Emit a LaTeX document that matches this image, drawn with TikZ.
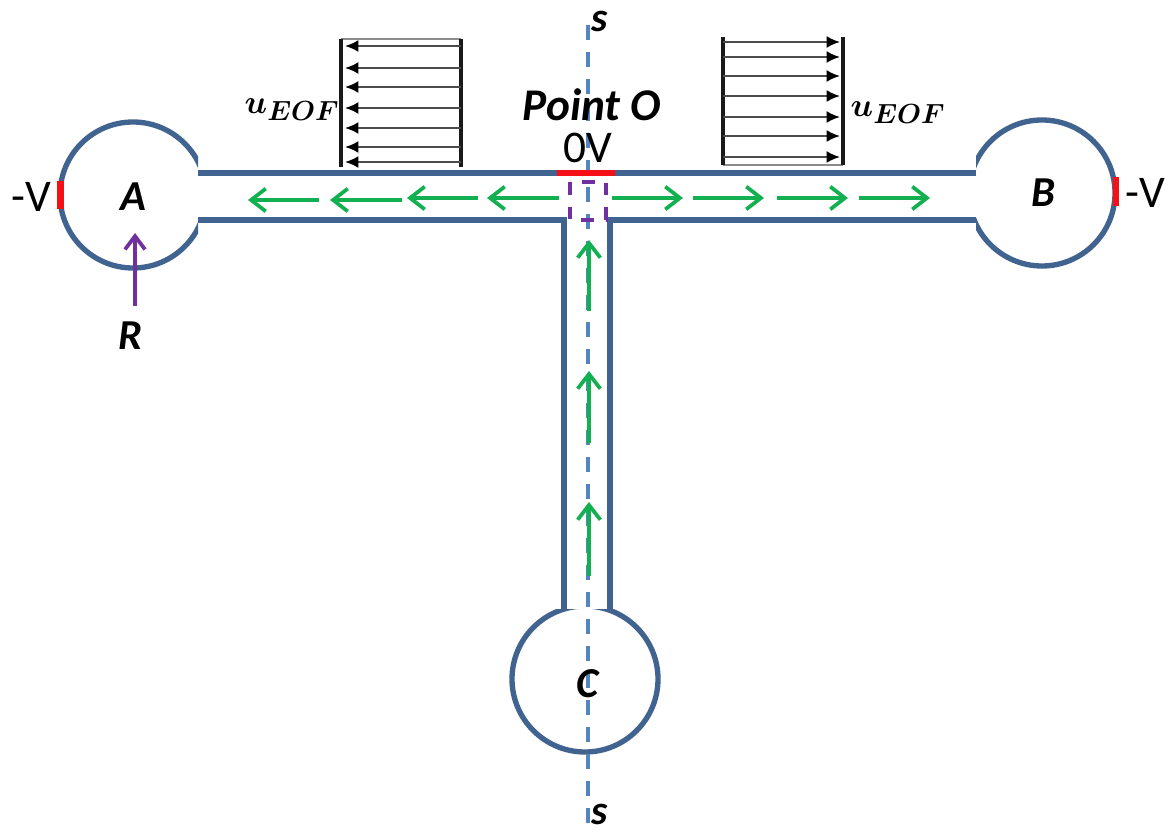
\documentclass[tikz,border=0pt]{standalone}
\usepackage{fontspec}
\setmainfont{Carlito}
\usetikzlibrary{arrows.meta}
\definecolor{wall}{HTML}{41638F}
\definecolor{axis}{HTML}{5585BF}
\definecolor{flow}{HTML}{12B050}
\definecolor{electrode}{HTML}{F50F17}
\definecolor{probe}{HTML}{7030A0}
\tikzset{
  wall/.style={line width=4pt, draw=wall},
  axis/.style={line width=2.6pt, draw=axis, dash pattern=on 11.25pt off 9pt},
  flow/.style={-{Straight Barb[length=11pt,width=17pt,line width=2.8pt]}, line width=2.8pt, draw=flow},
  electrode/.style={line width=5.2pt, draw=electrode},
  probe/.style={line width=2.8pt, draw=probe, dash pattern=on 9.5pt off 9pt},
  rarrow/.style={-{Straight Barb[length=10pt,width=15pt,line width=2.8pt]}, line width=2.8pt, draw=probe},
  bar/.style={line width=3.4pt, draw=black!90},
  prof/.style={-{Latex[length=10pt,width=9pt,black]}, line width=1.7pt, draw=black!70},
  thin/.style={line width=1pt, draw=black!45},
  lab/.style={font=\fontsize{32}{34}\selectfont\bfseries\itshape, inner sep=0pt},
  labs/.style={font=\fontsize{31}{33}\selectfont\bfseries\itshape, inner sep=0pt},
  labo/.style={font=\fontsize{34}{36}\selectfont\bfseries\itshape, inner sep=0pt},
  labv/.style={font=\fontsize{34}{36}\selectfont, inner sep=0pt},
  labu/.style={font=\fontsize{30}{32}\selectfont\boldmath, inner sep=0pt}
}
\begin{document}
\begin{tikzpicture}[x=0.75pt,y=-0.75pt]
  \useasboundingbox (0,0) rectangle (1171,834);

  % reservoirs
  \begin{scope}
    \clip (0,0) rectangle (198,834);
    \draw[wall] (133,195) circle[radius=73];
  \end{scope}
  \begin{scope}
    \clip (976,0) rectangle (1171,834);
    \draw[wall] (1042,193) circle[radius=73];
  \end{scope}
  \begin{scope}
    \clip (0,609) rectangle (1171,834);
    \draw[wall] (585,679) circle[radius=73];
  \end{scope}

  % channel walls
  \draw[wall] (198,173) -- (976,173);
  \draw[wall] (198,220) -- (564,220) -- (564,611);
  \draw[wall] (976,220) -- (610,220) -- (610,611);

  % centre line
  \draw[axis] (588,25) -- (588,832);

  % electrodes
  \draw[electrode] (557,173) -- (615,173);
  \draw[electrode] (60.5,181) -- (60.5,209);
  \draw[electrode] (1116,177) -- (1116,206);

  \draw[probe] (570,182) rectangle (606,220);

  % flow arrows
  \draw[flow] (319,200) -- (248,200);
  \draw[flow] (402,200) -- (330,200);
  \draw[flow] (478,198) -- (407,198);
  \draw[flow] (559,198) -- (487,198);
  \foreach \x in {612,693,777,859} {
    \draw[flow] (\x,198) -- ({\x+71},198);
  }
  \draw[flow] (589,311) -- (589,240);
  \draw[flow] (589,443) -- (589,371);
  \draw[flow] (589,576) -- (589,502);

  % velocity profiles
  \draw[thin] (341,39) -- (461,39);
  \draw[bar] (341,39) -- (341,167);
  \draw[bar] (461,39) -- (461,167);
  \foreach \y in {46,68,87,108,128,147,162} {
    \draw[prof] (461,\y) -- (345,\y);
  }
  \draw[thin] (723,165) -- (843,165);
  \draw[bar] (723,37) -- (723,165);
  \draw[bar] (843,37) -- (843,165);
  \foreach \y in {42,57,76,96,117,136,157} {
    \draw[prof] (723,\y) -- (840,\y);
  }

  \draw[rarrow] (135,306) -- (135,233);

  % labels
  \node[lab] (labA) at (133,197) {A};
  \node[lab] (labB) at (1043,193) {B};
  \node[lab] (labC) at (588,684) {C};
  \node[lab] (labR) at (131,336) {R};
  \node[labs] (labSa) at (600,21) {s};
  \node[labs] (labSb) at (600,814) {s};
  \node[labo] (labO) at (592,105) {Point O};
  \node[labv] (labZero) at (588,148) {0V};
  \node[labv] (labVa) at (31,197) {-V};
  \node[labv] (labVb) at (1145,193) {-V};
  \node[labu] (labUa) at (292,110) {$u_{EOF}$};
  \node[labu] (labUb) at (898,113) {$u_{EOF}$};
\end{tikzpicture}
\end{document}
